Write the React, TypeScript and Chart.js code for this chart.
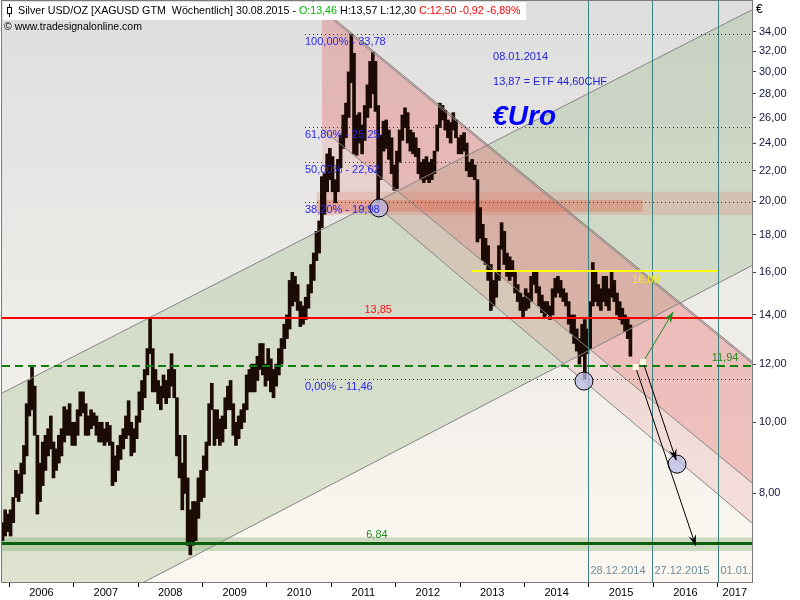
import { useEffect, useRef } from "react"
import { Chart, registerables } from "chart.js"

Chart.register(...registerables)

// Weekly silver in EUR.
// First entry = first half of November 2005.
const FIRST_YEAR = 2005
const FIRST_MONTH = 10

const lows = [
  // 2005 Nov-Dec
  6.7, 6.9, 7.0, 7.1,
  // 2006
  7.0, 7.3, 7.9, 7.8, 8.0, 8.5, 9.0, 10.2, 10.4, 9.6, 7.5, 7.8, 8.2, 8.6, 9.0, 9.2, 8.4, 8.6, 8.8, 9.0, 9.4, 9.6, 9.6, 9.3,
  // 2007
  9.3, 9.6, 10.2, 10.3, 9.6, 9.6, 9.8, 9.9, 9.6, 9.4, 9.4, 9.3, 9.4, 9.3, 8.2, 8.3, 8.6, 8.9, 9.2, 9.5, 9.6, 9.0, 9.1, 9.5,
  // 2008
  10.0, 10.4, 10.8, 11.6, 12.4, 11.0, 11.0, 10.6, 10.4, 10.8, 10.6, 10.8, 11.2, 10.8, 9.0, 8.4, 7.6, 8.0, 6.8, 6.6, 6.8, 6.9, 7.4, 7.8,
  // 2009
  7.9, 8.6, 9.3, 10.4, 9.3, 9.5, 9.3, 9.4, 9.8, 10.4, 10.4, 9.6, 9.3, 9.5, 9.8, 10.0, 10.4, 11.0, 11.0, 11.0, 11.4, 11.8, 11.6, 11.2,
  // 2010
  11.4, 11.0, 10.8, 11.2, 11.6, 12.0, 12.6, 13.0, 13.4, 14.4, 14.6, 14.2, 13.5, 13.6, 13.8, 14.3, 15.0, 15.6, 16.6, 17.0, 18.4, 19.2, 20.6, 21.4,
  // 2011
  20.6, 19.9, 20.6, 22.2, 23.6, 24.4, 26.0, 29.0, 23.2, 23.1, 24.0, 23.2, 24.2, 26.0, 26.8, 28.0, 26.5, 19.98, 21.4, 23.4, 23.6, 22.8, 21.8, 20.7,
  // 2012
  20.8, 22.6, 24.2, 25.2, 24.0, 23.4, 23.2, 23.0, 21.8, 21.4, 21.2, 21.4, 21.2, 21.4, 21.8, 23.4, 25.2, 25.8, 25.0, 24.4, 24.0, 25.0, 24.4, 23.2,
  // 2013
  23.2, 23.4, 22.0, 21.6, 21.6, 21.4, 17.6, 17.8, 16.6, 16.4, 15.6, 14.2, 14.4, 14.8, 15.6, 17.2, 16.4, 15.8, 15.6, 15.8, 15.0, 14.6, 14.2, 13.9,
  // 2014
  14.2, 14.3, 14.6, 15.4, 15.0, 14.4, 14.1, 13.9, 14.0, 13.8, 14.0, 14.8, 15.0, 14.8, 14.6, 14.4, 13.6, 13.2, 12.8, 12.5, 12.0, 12.3, 11.46, 12.4,
  // 2015 Jan-Aug
  12.6, 14.4, 14.6, 14.4, 14.2, 14.6, 14.4, 14.2, 14.8, 14.6, 14.0, 13.8, 13.6, 13.3, 13.0, 12.3,
]

const highs = [
  // 2005 Nov-Dec
  7.1, 7.3, 7.6, 7.5,
  // 2006
  7.6, 7.9, 8.6, 8.5, 8.8, 9.3, 10.6, 11.4, 11.95, 11.2, 9.6, 8.8, 9.4, 9.6, 9.8, 10.2, 9.4, 9.2, 9.6, 9.8, 10.5, 10.4, 10.6, 10.0,
  // 2007
  10.0, 10.4, 11.0, 11.0, 10.6, 10.2, 10.4, 10.3, 10.2, 10.0, 10.0, 9.8, 10.0, 9.9, 9.4, 9.0, 9.3, 9.6, 9.8, 10.2, 10.7, 10.0, 9.8, 10.2,
  // 2008
  11.0, 11.4, 11.8, 12.6, 13.9, 12.6, 11.8, 11.4, 11.2, 11.6, 11.4, 11.8, 12.4, 11.8, 10.8, 9.6, 8.8, 9.6, 8.4, 7.6, 7.8, 7.8, 8.4, 8.6,
  // 2009
  9.0, 9.4, 10.6, 11.3, 10.4, 10.4, 10.1, 10.2, 10.8, 11.2, 11.4, 10.6, 10.0, 10.2, 10.4, 10.6, 11.6, 11.8, 12.0, 12.0, 12.3, 12.8, 12.8, 12.0,
  // 2010
  12.6, 12.2, 11.8, 12.0, 12.6, 13.0, 13.6, 14.0, 15.6, 16.0, 15.8, 15.4, 14.6, 14.4, 14.8, 15.4, 16.4, 17.0, 18.2, 18.8, 21.6, 21.8, 23.2, 23.6,
  // 2011
  23.0, 21.4, 22.8, 24.6, 26.2, 27.2, 30.0, 33.78, 31.8, 26.2, 26.4, 25.4, 27.0, 28.8, 31.0, 31.9, 31.0, 27.0, 24.6, 25.7, 25.8, 25.0, 24.4, 22.4,
  // 2012
  23.4, 25.0, 26.2, 26.8, 26.4, 25.0, 24.8, 24.4, 23.6, 22.6, 22.8, 23.0, 22.6, 22.8, 23.4, 25.4, 27.2, 27.0, 26.6, 25.8, 25.6, 26.4, 25.8, 24.4,
  // 2013
  24.6, 24.8, 24.0, 22.6, 22.8, 22.4, 21.4, 19.6, 18.6, 17.8, 17.4, 16.4, 15.6, 16.0, 17.4, 18.7, 18.2, 17.0, 16.8, 16.6, 16.0, 15.4, 15.0, 14.8,
  // 2014
  15.2, 15.0, 15.8, 16.1, 16.0, 15.3, 14.9, 14.6, 14.6, 14.4, 15.2, 15.7, 15.8, 15.6, 15.2, 15.0, 14.6, 14.0, 14.0, 13.4, 13.0, 13.6, 13.8, 13.4,
  // 2015 Jan-Aug
  14.6, 16.5, 16.0, 15.4, 15.2, 15.8, 15.8, 15.2, 16.1, 15.6, 15.0, 14.6, 14.3, 14.0, 13.9, 13.57,
]

const yearTicks = [2006, 2007, 2008, 2009, 2010, 2011, 2012, 2013, 2014, 2015, 2016, 2017]
const priceTicks = [8, 10, 12, 14, 16, 18, 20, 22, 24, 26, 28, 30, 32, 34]

// last weekly candle shown in the header
const lastDate = "30.08.2015"
const lastOpen = 13.46
const lastHigh = 13.57
const lastLow = 12.3
const lastClose = 12.5
const lastChange = -0.92
const lastChangePct = -6.89

// Fibonacci retracement 11,46 -> 33,78
const fibLabels = ["100,00%", "61,80%", "50,00%", "38,20%", "0,00%"]
const fibValues = [33.78, 25.25, 22.62, 19.98, 11.46]
const fibStart = 2010.593

// horizontal levels
const resistance = 13.85
const support = 11.94
const floorLevel = 6.84
const yellowLevel = 16.09
const yellowSpan = [2013.186, 2017.006]
const floorBand = [6.68, 6.97]
const zoneOuter = [19.15, 20.6]
const zoneInner = [19.35, 20.07]
const zoneStart = 2010.775
const zoneInnerEnd = 2015.84

// trend lines as [year, price] pairs
const lineA = [[2005.8, 10.86], [2017.6, 36.69]]
const lineC = [[2008.0, 6.0], [2017.6, 16.46]]
const lineD = [[2010.7, 37.5], [2017.6, 11.97]]
const lineE1 = [[2010.857, 25.08], [2017.6, 8.18]]
const lineE2 = [[2011.742, 19.58], [2017.6, 7.21]]
const pinkStart = 2010.857
const pinkFloor = 19.03

const markedLows = [[2011.742, 19.58], [2014.925, 11.38], [2016.37, 8.77]]
const arrowStarts = [[2015.842, 12.08], [2015.842, 12.08], [2015.726, 11.89]]
const arrowEnds = [[2016.31, 14.13], [2016.357, 8.88], [2016.66, 6.79]]
const arrowColors = ["#1f8a1f", "#000000", "#000000"]

const verticalDates = ["28.12.2014", "27.12.2015", "01.01.2017"]
const verticalYears = [2014.988, 2015.984, 2017.0]

const noteDate = "08.01.2014"
const noteEtf = "13,87 = ETF 44,60CHF"
const noteCurrency = "€Uro"

const periodX = lows.map(
  (_, i) => FIRST_YEAR + (FIRST_MONTH + Math.floor(i / 2) + (i % 2 === 0 ? 0.25 : 0.75)) / 12
)

const FONT = '"Liberation Sans", Arial, sans-serif'
const fmt = (v: number) => v.toFixed(2).replace(".", ",")

type Pt = number[]

function px(chart: any, p: Pt) {
  return [chart.scales.x.getPixelForValue(p[0]), chart.scales.y.getPixelForValue(p[1])]
}

// point on a trend line (straight in time / log-price space)
function onLine(line: Pt[], year: number): Pt {
  const t = (year - line[0][0]) / (line[1][0] - line[0][0])
  const lp = Math.log(line[0][1]) + t * (Math.log(line[1][1]) - Math.log(line[0][1]))
  return [year, Math.exp(lp)]
}

function fillPoly(chart: any, pts: Pt[], color: string) {
  const ctx = chart.ctx
  ctx.beginPath()
  pts.forEach((p, i) => {
    const [x, y] = px(chart, p)
    if (i === 0) ctx.moveTo(x, y)
    else ctx.lineTo(x, y)
  })
  ctx.closePath()
  ctx.fillStyle = color
  ctx.fill()
}

function strokeSeg(chart: any, a: Pt, b: Pt, color: string, width = 1, dash: number[] = [], dy = 0) {
  const ctx = chart.ctx
  const [x1, y1] = px(chart, a)
  const [x2, y2] = px(chart, b)
  ctx.save()
  ctx.strokeStyle = color
  ctx.lineWidth = width
  ctx.setLineDash(dash)
  ctx.beginPath()
  ctx.moveTo(x1, y1 + dy)
  ctx.lineTo(x2, y2 + dy)
  ctx.stroke()
  ctx.restore()
}

function hLine(chart: any, value: number, color: string, width: number, dash: number[] = [], from?: number, to?: number) {
  const a = chart.chartArea
  const y = Math.round(chart.scales.y.getPixelForValue(value)) + (width % 2 ? 0.5 : 0)
  const x1 = from === undefined ? a.left : chart.scales.x.getPixelForValue(from)
  const x2 = to === undefined ? a.right : chart.scales.x.getPixelForValue(to)
  const ctx = chart.ctx
  ctx.save()
  ctx.strokeStyle = color
  ctx.lineWidth = width
  ctx.setLineDash(dash)
  ctx.beginPath()
  ctx.moveTo(x1, y)
  ctx.lineTo(x2, y)
  ctx.stroke()
  ctx.restore()
}

function text(chart: any, s: string, p: Pt, color: string, font: string, align: CanvasTextAlign, dy = 0) {
  const ctx = chart.ctx
  const [x, y] = px(chart, p)
  ctx.save()
  ctx.font = font
  ctx.fillStyle = color
  ctx.textAlign = align
  ctx.textBaseline = "middle"
  ctx.fillText(s, x, y + dy)
  ctx.restore()
}

function arrow(chart: any, a: Pt, b: Pt, color: string) {
  const ctx = chart.ctx
  const [x1, y1] = px(chart, a)
  const [x2, y2] = px(chart, b)
  const ang = Math.atan2(y2 - y1, x2 - x1)
  ctx.save()
  ctx.strokeStyle = color
  ctx.fillStyle = color
  ctx.lineWidth = 1
  ctx.beginPath()
  ctx.moveTo(x1, y1)
  ctx.lineTo(x2, y2)
  ctx.stroke()
  ctx.beginPath()
  ctx.moveTo(x2, y2)
  ctx.lineTo(x2 - 11 * Math.cos(ang) + 4 * Math.sin(ang), y2 - 11 * Math.sin(ang) - 4 * Math.cos(ang))
  ctx.lineTo(x2 - 7 * Math.cos(ang), y2 - 7 * Math.sin(ang))
  ctx.lineTo(x2 - 11 * Math.cos(ang) - 4 * Math.sin(ang), y2 - 11 * Math.sin(ang) + 4 * Math.cos(ang))
  ctx.closePath()
  ctx.fill()
  ctx.restore()
}

function clipArea(chart: any) {
  const a = chart.chartArea
  chart.ctx.beginPath()
  chart.ctx.rect(a.left, a.top, a.right - a.left, a.bottom - a.top)
  chart.ctx.clip()
}

const overlay = {
  id: "overlay",
  beforeDraw(chart: any) {
    const { ctx, chartArea: a } = chart
    ctx.save()
    ctx.fillStyle = "#ffffff"
    ctx.fillRect(0, 0, chart.width, chart.height)
    const g = ctx.createLinearGradient(0, a.top, 0, a.bottom)
    g.addColorStop(0, "#dedede")
    g.addColorStop(1, "#fcf8f1")
    ctx.fillStyle = g
    ctx.fillRect(a.left, a.top, a.right - a.left, a.bottom - a.top)
    clipArea(chart)

    // rising green channel
    fillPoly(chart, [lineA[0], lineA[1], lineC[1], lineC[0], [2005.8, 6.0]], "rgba(140,175,120,0.27)")
    // falling red channel
    fillPoly(chart, [onLine(lineD, pinkStart), lineD[1], lineE1[1], lineE1[0]], "rgba(228,105,105,0.36)")
    fillPoly(chart, [lineE1[0], lineE1[1], lineE2[1], lineE2[0], [pinkStart, pinkFloor]], "rgba(228,105,105,0.16)")
    // 20 EUR zone
    fillPoly(chart, [[zoneStart, zoneOuter[0]], [2017.6, zoneOuter[0]], [2017.6, zoneOuter[1]], [zoneStart, zoneOuter[1]]], "rgba(225,120,100,0.22)")
    fillPoly(chart, [[zoneStart, zoneInner[0]], [zoneInnerEnd, zoneInner[0]], [zoneInnerEnd, zoneInner[1]], [zoneStart, zoneInner[1]]], "rgba(220,95,65,0.32)")
    // band round the 6,84 floor
    fillPoly(chart, [[2005.8, floorBand[0]], [2017.6, floorBand[0]], [2017.6, floorBand[1]], [2005.8, floorBand[1]]], "rgba(110,160,90,0.32)")

    // fibonacci levels
    fibValues.forEach((v) => hLine(chart, v, "#1a1aff", 1, [1, 3], fibStart))
    ctx.restore()
  },
  afterDatasetsDraw(chart: any) {
    const ctx = chart.ctx
    const a = chart.chartArea
    ctx.save()
    clipArea(chart)

    const grey = "#858585"
    strokeSeg(chart, lineA[0], lineA[1], grey)
    strokeSeg(chart, lineC[0], lineC[1], grey)
    strokeSeg(chart, lineD[0], lineD[1], "#7a7a7a")
    strokeSeg(chart, lineD[0], lineD[1], "#8a8a8a", 1, [], 2)
    strokeSeg(chart, lineE1[0], lineE1[1], grey)
    strokeSeg(chart, lineE2[0], lineE2[1], grey)

    verticalYears.forEach((yr, i) => {
      const x = Math.round(chart.scales.x.getPixelForValue(yr)) + 0.5
      ctx.strokeStyle = "#3d8080"
      ctx.lineWidth = 1
      ctx.beginPath()
      ctx.moveTo(x, a.top)
      ctx.lineTo(x, a.bottom)
      ctx.stroke()
      ctx.font = `11px ${FONT}`
      ctx.fillStyle = "#6b8c9c"
      ctx.textAlign = "left"
      ctx.textBaseline = "middle"
      ctx.fillText(verticalDates[i], x + 2, a.bottom - 11)
    })

    hLine(chart, resistance, "#ff0000", 2)
    hLine(chart, yellowLevel, "#ffff00", 2, [], yellowSpan[0], yellowSpan[1])
    hLine(chart, support, "#0a820a", 2, [8, 5])
    hLine(chart, floorLevel, "#0b5e0b", 3)

    markedLows.forEach((p) => {
      const [x, y] = px(chart, p)
      ctx.beginPath()
      ctx.arc(x, y, 9, 0, Math.PI * 2)
      ctx.fillStyle = "rgba(185,185,228,0.75)"
      ctx.fill()
      ctx.strokeStyle = "#000"
      ctx.lineWidth = 1
      ctx.stroke()
    })

    arrowStarts.forEach((s, i) => arrow(chart, s, arrowEnds[i], arrowColors[i]))
    ;[arrowStarts[0], arrowStarts[2]].forEach((p) => {
      const [x, y] = px(chart, p)
      ctx.fillStyle = "#fffbe0"
      ctx.fillRect(x - 3, y - 3, 6, 6)
    })

    const small = `11px ${FONT}`
    fibValues.forEach((v, i) =>
      text(chart, `${fibLabels[i]} - ${fmt(v)}`, [fibStart, v], "#2828f0", small, "left", 8)
    )
    text(chart, fmt(resistance), [2011.73, resistance], "#ff1010", small, "center", -8)
    text(chart, fmt(floorLevel), [2011.71, floorLevel], "#228b22", small, "center", -8)
    text(chart, fmt(support), [2017.115, support], "#228b22", small, "center", -8)
    text(chart, fmt(yellowLevel), [2015.888, yellowLevel], "#f0f000", small, "center", 9)
    text(chart, noteDate, [2013.513, 31.43], "#2222d8", small, "left")
    text(chart, noteEtf, [2013.513, 29.06], "#2222d8", small, "left")
    text(chart, noteCurrency, [2013.5, 26.04], "#0000ff", `italic bold 28px ${FONT}`, "left")
    ctx.restore()
  },
  afterDraw(chart: any) {
    const ctx = chart.ctx
    const a = chart.chartArea
    const xs = chart.scales.x
    ctx.save()
    ctx.strokeStyle = "#7a7a7a"
    ctx.lineWidth = 1
    ctx.strokeRect(a.left - 0.5, a.top + 0.5, a.right - a.left + 1, a.bottom - a.top)

    // year labels centred in the visible part of each year
    ctx.font = `11px ${FONT}`
    ctx.fillStyle = "#000"
    ctx.textAlign = "center"
    ctx.textBaseline = "middle"
    yearTicks.forEach((yr) => {
      const x1 = Math.max(xs.getPixelForValue(yr), a.left)
      const x2 = Math.min(xs.getPixelForValue(yr + 1), a.right)
      if (x2 - x1 > 20) ctx.fillText(String(yr), (x1 + x2) / 2, a.bottom + 11)
    })

    ctx.font = `12px ${FONT}`
    ctx.textAlign = "left"
    ctx.fillText("€", a.right + 4, 10)

    // header
    const parts: [string, string][] = [
      [`Silver USD/OZ [XAGUSD GTM  Wöchentlich] ${lastDate} - `, "#000000"],
      [`O:${fmt(lastOpen)}`, "#00b400"],
      [` H:${fmt(lastHigh)} L:${fmt(lastLow)} `, "#000000"],
      [`C:${fmt(lastClose)} ${fmt(lastChange)} ${fmt(lastChangePct)}%`, "#ff0000"],
    ]
    ctx.font = `12px ${FONT}`
    const total = parts.reduce((s, p) => s + ctx.measureText(p[0]).width, 0)
    const size = Math.min(12.5, (12 * 503) / total)
    ctx.fillStyle = "#ffffff"
    ctx.fillRect(3, 2, 523, 18)
    ctx.strokeStyle = "#000"
    ctx.beginPath()
    ctx.moveTo(9.5, 4)
    ctx.lineTo(9.5, 17)
    ctx.stroke()
    ctx.fillStyle = "#fff"
    ctx.fillRect(7, 7, 5, 7)
    ctx.strokeRect(7.5, 7.5, 4, 6)
    ctx.font = `${size}px ${FONT}`
    ctx.textBaseline = "middle"
    let x = 18
    parts.forEach(([s, c]) => {
      ctx.fillStyle = c
      ctx.fillText(s, x, 11)
      x += ctx.measureText(s).width
    })
    ctx.fillStyle = "#000"
    ctx.font = `10.5px ${FONT}`
    ctx.fillText("© www.tradesignalonline.com", 4, 27)
    ctx.restore()
  },
}

export default function App() {
  const canvasRef = useRef<HTMLCanvasElement | null>(null)
  const chartRef = useRef<Chart | null>(null)

  useEffect(() => {
    document.body.style.margin = "0"
    if (!canvasRef.current) return
    chartRef.current?.destroy()
    chartRef.current = new Chart(canvasRef.current, {
      type: "bar",
      data: {
        datasets: [
          {
            data: lows.map((lo, i) => ({ x: periodX[i], y: [lo, highs[i]] })) as any,
            backgroundColor: "#1c0a04",
            borderWidth: 0,
            barThickness: 3,
          },
        ],
      },
      options: {
        responsive: false,
        animation: false,
        events: [],
        layout: { padding: { left: 2, top: 0, right: 0, bottom: 0 } },
        plugins: { legend: { display: false }, tooltip: { enabled: false } },
        scales: {
          x: {
            type: "linear",
            offset: false,
            min: 2005.888,
            max: 2017.534,
            afterBuildTicks: (s: any) => {
              s.ticks = yearTicks.map((v) => ({ value: v }))
            },
            afterFit: (s: any) => {
              s.height = 18
              s.paddingLeft = 0
              s.paddingRight = 0
            },
            ticks: { display: false },
            grid: { drawOnChartArea: false, drawTicks: true, tickLength: 5, color: "#000", offset: false },
            border: { display: true, color: "#7a7a7a" },
          },
          y: {
            type: "logarithmic",
            position: "right",
            min: 6.061,
            max: 37.58,
            afterBuildTicks: (s: any) => {
              s.ticks = priceTicks.map((v) => ({ value: v }))
            },
            afterFit: (s: any) => {
              s.width = 48
              s.paddingTop = 0
              s.paddingBottom = 0
            },
            ticks: {
              callback: (v: any) => fmt(Number(v)),
              color: "#141440",
              font: { family: "Liberation Sans", size: 11 },
              padding: 3,
              autoSkip: false,
            },
            grid: { drawOnChartArea: false, drawTicks: true, tickLength: 4, color: "#444" },
            border: { display: true, color: "#7a7a7a" },
          },
        },
      },
      plugins: [overlay],
    })
    return () => {
      chartRef.current?.destroy()
      chartRef.current = null
    }
  }, [])

  return (
    <div style={{ width: 800, height: 600 }}>
      <canvas ref={canvasRef} width={800} height={600} />
    </div>
  )
}
